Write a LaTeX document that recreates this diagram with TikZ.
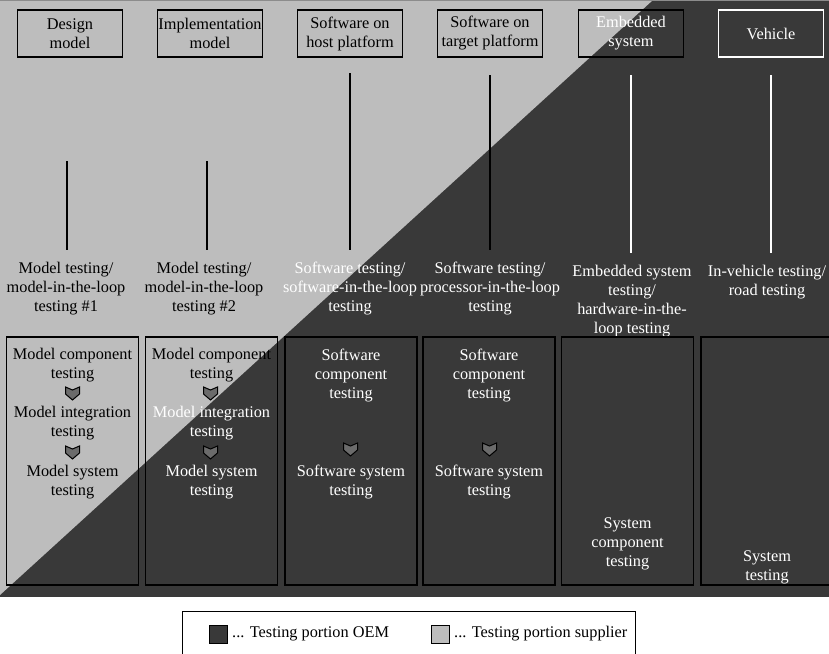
\documentclass[tikz,border=0pt]{standalone}
\usepackage{fontspec}
\setmainfont{Liberation Serif}
\usetikzlibrary{positioning}
\definecolor{oem}{HTML}{393939}
\definecolor{supplier}{HTML}{BDBDBD}
\definecolor{chevfill}{HTML}{6B6B6B}

\tikzset{
  txt/.style={font=\fontsize{16.3}{19}\selectfont, align=center, inner sep=0pt},
  hdrbox/.style={txt, draw, line width=1.3pt, minimum width=105pt, minimum height=47pt},
  lvlname/.style={txt, anchor=north, outer ysep=12pt},
  lvlbox/.style={draw, line width=1.3pt, minimum width=132pt, minimum height=248pt, inner sep=0pt},
  keybox/.style={draw, line width=1pt, minimum size=18pt, inner sep=0pt},
  pics/chev/.style={code={\draw[line width=1pt, fill=chevfill] (-7,-6) -- (0,-3) -- (7,-6) -- (7,1) -- (0,7) -- (-7,1) -- cycle;}}
}

\begin{document}
\begin{tikzpicture}[x=1pt, y=-1pt]
\useasboundingbox (0,0) rectangle (829,653);

% background: supplier part top left, OEM part bottom right
\fill[oem] (0,0) rectangle (829,597);
\fill[supplier] (0,0) -- (653,0) -- (0,595) -- cycle;
\draw[black!45, line width=1pt] (0,0.5) -- (829,0.5);

% test objects
\node[hdrbox] (h1) at (70,33.5) {Design\\model};
\node[hdrbox] (h2) at (210,33.5) {Implementation\\model};
\node[hdrbox] (h3) at (350,33.5) {Software on\\host platform};
\node[hdrbox] (h4) at (490,33.5) {Software on\\target platform};
\node[hdrbox, text=white] (h5) at (631,33.5) {Embedded\\system};
\node[hdrbox, draw=white, text=white] (h6) at (771,33.5) {Vehicle};

% test levels
\node[lvlname] (l1) at (66,250) {Model testing/\\model-in-the-loop\\testing \#1};
\node[lvlname] (l2) at (204,250) {Model testing/\\model-in-the-loop\\testing \#2};
\node[lvlname, text=white] (l3) at (350,250) {Software testing/\\software-in-the-loop\\testing};
\node[lvlname, text=white] (l4) at (490,250) {Software testing/\\processor-in-the-loop\\testing};
\node[lvlname, text=white] (l5) at (632,253) {Embedded system\\testing/\\hardware-in-the-\\loop testing};
\node[lvlname, text=white] (l6) at (767,253) {In-vehicle testing/\\road testing};

\coordinate (t1) at (67,161);
\coordinate (t2) at (207,161);
\coordinate (t3) at (350,73);
\coordinate (t4) at (490,75);
\coordinate (t5) at (631,75);
\coordinate (t6) at (771,75);
\foreach \i in {1,...,4}{\draw[line width=1.3pt] (t\i) -- (l\i.north -| t\i);}
\foreach \i in {5,6}{\draw[white, line width=1.3pt] (t\i) -- (l\i.north -| t\i);}

% test steps
\foreach \x [count=\i] in {72.5,211.5,351,489,627.5,767}{\node[lvlbox] (b\i) at (\x,461) {};}

\node[txt] (s11) at (72.5,365.5) {Model component\\testing};
\node[txt] (s12) at (72.5,423.5) {Model integration\\testing};
\node[txt] (s13) at (72.5,482.5) {Model system\\testing};
\node[txt] (s21) at (211.5,365.5) {Model component\\testing};
\node[txt, text=white] (s22) at (211.5,423.5) {Model integration\\testing};
\node[txt, text=white] (s23) at (211.5,482.5) {Model system\\testing};
\node[txt, text=white] (s31) at (351,375.5) {Software\\component\\testing};
\node[txt, text=white] (s32) at (351,482.5) {Software system\\testing};
\node[txt, text=white] (s41) at (489,375.5) {Software\\component\\testing};
\node[txt, text=white] (s42) at (489,482.5) {Software system\\testing};
\node[txt, text=white] (s51) at (627.5,543.5) {System\\component\\testing};
\node[txt, text=white] (s61) at (767,567.5) {System\\testing};

\pic at (72.5,393) {chev};
\pic at (72.5,452) {chev};
\pic at (210.5,393) {chev};
\pic at (210.5,452) {chev};
\pic at (350.5,449) {chev};
\pic at (489.5,449) {chev};

% legend
\node[draw, line width=0.8pt, minimum width=453pt, minimum height=52pt, anchor=north west] (leg) at (182,611) {};
\node[keybox, fill=oem] (k1) at (218.5,634) {};
\node[txt, right=4pt of k1] (k1t) {... Testing portion OEM};
\node[keybox, fill=supplier] (k2) at (440.5,634) {};
\node[txt, right=4pt of k2] (k2t) {... Testing portion supplier};
\end{tikzpicture}
\end{document}
